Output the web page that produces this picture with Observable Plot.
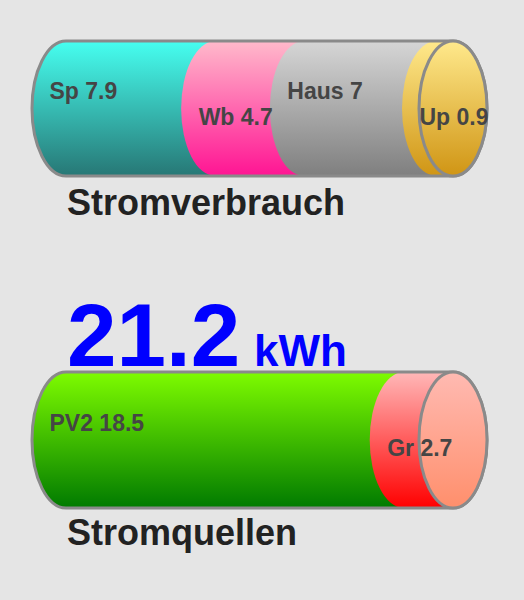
<!DOCTYPE html>
<html>
<head>
<meta charset="utf-8">
<script src="https://cdn.jsdelivr.net/npm/d3@7"></script>
<script src="https://cdn.jsdelivr.net/npm/@observablehq/plot@0.6"></script>
<style>
  html, body { margin: 0; padding: 0; background: #e5e5e5; }
  #page { position: relative; width: 524px; height: 600px; overflow: hidden; background: #e5e5e5;
          font-family: "Liberation Sans", Arial, Helvetica, sans-serif; }
  .abs { position: absolute; white-space: nowrap; line-height: 0; font-weight: bold; }
  .title { font-size: 36px; color: #222; }
  .big { color: #0000ff; }
</style>
</head>
<body>
<div id="page"></div>
<script>
// ---- data ----
const verbrauchNames = ["Sp", "Wb", "Haus", "Up"];
const verbrauchValues = [7.9, 4.7, 7, 0.9];
const quellenNames = ["PV2", "Gr"];
const quellenValues = [18.5, 2.7];
const verbrauchTitle = "Stromverbrauch";
const quellenTitle = "Stromquellen";
const unit = "kWh";

// ---- styles ----
const verbrauchColors = [["#46fff0", "#277775"], ["#ffbacb", "#ff1493"], ["#d6d6d6", "#7f7f7f"], ["#ffe98c", "#d09514"]];
const verbrauchCap = ["#ffe98c", "#d09514"];
const quellenColors = [["#7efc00", "#007a00"], ["#ffb8b8", "#ff0000"]];
const quellenCap = ["#ffbab2", "#ff8f6c"];

const RX = 34;
const page = document.getElementById("page");

function cylinder(prefix, names, values, colors, cap, height, yTop, yBottom) {
  let acc = 0;
  const segs = names.map((name, i) => {
    const s = {name, value: values[i], start: acc, end: acc + values[i], i};
    acc += values[i];
    return s;
  });
  const total = acc;
  const ry = (yBottom - yTop) / 2;
  const ellipse = {insetLeft: -RX, insetRight: -RX, rx: RX, ry: ry};
  const marks = [];
  segs.forEach((d, i) => {
    const fill = `url(#${prefix}-${i})`;
    marks.push(Plot.rect([d], {x1: "start", x2: "start", y1: 0, y2: 1, ...ellipse, fill}));
    marks.push(Plot.rect([d], {x1: "start", x2: "end", y1: 0, y2: 1, fill}));
  });
  const whole = [{start: 0, end: total}];
  marks.push(Plot.rect(whole, {x1: "start", x2: "end", y1: 0, y2: 1, ...ellipse, fill: "none", stroke: "#8a8a8a", strokeWidth: 3}));
  marks.push(Plot.rect(whole, {x1: "end", x2: "end", y1: 0, y2: 1, ...ellipse, fill: `url(#${prefix}-cap)`, stroke: "#8a8a8a", strokeWidth: 3}));
  const label = d => `${d.name} ${d.value}`;
  const textOpts = {x: "start", y: 0.5, dx: -17, text: label, textAnchor: "start", fontSize: 23, fontWeight: "bold", fill: "#454545"};
  marks.push(Plot.text(segs.filter(d => d.i % 2 === 0), {...textOpts, dy: -17}));
  marks.push(Plot.text(segs.filter(d => d.i % 2 === 1), {...textOpts, dy: 8.5}));

  const svg = Plot.plot({
    width: 524,
    height,
    margin: 0,
    x: {domain: [0, total], range: [66, 453], axis: null},
    y: {domain: [0, 1], range: [yBottom, yTop], axis: null},
    style: {background: "transparent", fontFamily: "'Liberation Sans', Arial, Helvetica, sans-serif", overflow: "visible"},
    marks
  });
  const defs = d3.create("svg:defs");
  const addGrad = (id, [c0, c1]) => {
    const g = defs.append("linearGradient").attr("id", id).attr("x1", 0).attr("y1", 0).attr("x2", 0).attr("y2", 1);
    g.append("stop").attr("offset", "0%").attr("stop-color", c0);
    g.append("stop").attr("offset", "100%").attr("stop-color", c1);
  };
  colors.forEach((c, i) => addGrad(`${prefix}-${i}`, c));
  addGrad(`${prefix}-cap`, cap);
  svg.insertBefore(defs.node(), svg.firstChild);
  return {svg, total};
}

function place(node, y) {
  node.style.position = "absolute";
  node.style.left = "0px";
  node.style.top = y + "px";
  page.appendChild(node);
}

function textAt(txt, cls, left, baseline, size) {
  const div = document.createElement("div");
  div.className = "abs " + cls;
  div.style.fontSize = size + "px";
  div.style.left = left + "px";
  div.style.top = (baseline - 0.3465 * size) + "px";
  div.textContent = txt;
  page.appendChild(div);
}

const cylV = cylinder("v", verbrauchNames, verbrauchValues, verbrauchColors, verbrauchCap, 190, 41, 176);
place(cylV.svg, 0);
textAt(verbrauchTitle, "title", 67, 215, 36);

const cylQ = cylinder("q", quellenNames, quellenValues, quellenColors, quellenCap, 160, 12, 148);
place(cylQ.svg, 360);
textAt(quellenTitle, "title", 67, 545, 36);

const totalQ = d3.sum(quellenValues);
textAt(d3.format(".1f")(totalQ), "big", 67, 366, 89);
textAt(unit, "big", 254, 366, 44);
</script>
</body>
</html>
